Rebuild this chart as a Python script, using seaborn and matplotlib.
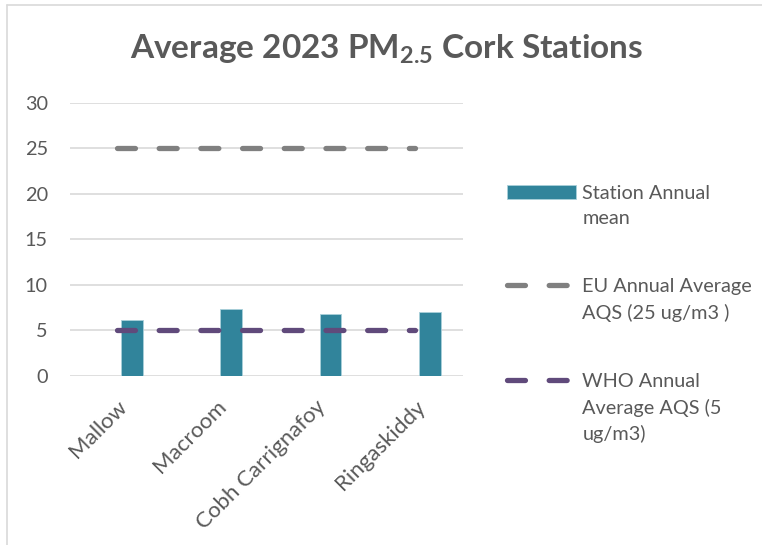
import matplotlib
matplotlib.use("Agg")
import matplotlib.pyplot as plt
from matplotlib.lines import Line2D
import seaborn as sns

stations = ["Mallow", "Macroom", "Cobh Carrignafoy", "Ringaskiddy"]
annual_mean = [6.1, 7.35, 6.8, 7.05]
eu_limit = [25, 25, 25, 25]
who_limit = [5, 5, 5, 5]

bar_label = "Station Annual\nmean"
eu_label = "EU Annual Average\nAQS (25 ug/m3 )"
who_label = "WHO Annual\nAverage AQS (5\nug/m3)"
y_ticks = [0, 5, 10, 15, 20, 25, 30]

TEXT = "#595959"
BAR = "#31849B"
EU = "#808080"
WHO = "#604A7B"
GRID = "#D9D9D9"

sns.set_theme(style="white")
plt.rcParams["font.family"] = ["Lato", "DejaVu Sans"]
plt.rcParams["mathtext.fontset"] = "custom"
plt.rcParams["mathtext.rm"] = "Lato:bold"
plt.rcParams["mathtext.it"] = "Lato:bold"
plt.rcParams["mathtext.bf"] = "Lato:bold"

fig = plt.figure(figsize=(7.62, 5.45), dpi=100)
ax = fig.add_axes([0.0919, 0.3106, 0.5157, 0.5004])

sns.barplot(x=stations, y=annual_mean, color=BAR, width=0.22, saturation=1,
            edgecolor="#A9D0DA", linewidth=0.6, label=bar_label, ax=ax)
# bars sit a little right of the category centre, as in the original
for p in ax.patches:
    p.set_x(p.get_x() + 0.15)

dash = (0, (3.4, 4.5))
sns.lineplot(x=stations, y=eu_limit, color=EU, lw=3.8, linestyle=dash,
             dash_capstyle="round", label=eu_label, ax=ax)
sns.lineplot(x=stations, y=who_limit, color=WHO, lw=3.8, linestyle=dash,
             dash_capstyle="round", label=who_label, ax=ax)

ax.set_ylim(0, 30)
ax.set_xlim(-0.475, 3.485)
ax.set_yticks(y_ticks)
ax.yaxis.grid(True, color=GRID, lw=1.2)
ax.set_axisbelow(True)
for s in ax.spines.values():
    s.set_visible(False)
ax.tick_params(axis="y", length=0, pad=16, labelsize=14.3, labelcolor=TEXT)
ax.tick_params(axis="x", length=0, pad=15, labelsize=16, labelcolor=TEXT)
for lab in ax.get_xticklabels():
    lab.set_rotation(45)
    lab.set_ha("right")
    lab.set_va("top")
    lab.set_rotation_mode("anchor")

handles, labels = ax.get_legend_handles_labels()
order = [labels.index(bar_label), labels.index(eu_label), labels.index(who_label)]
leg = ax.legend([handles[i] for i in order], [labels[i] for i in order],
                loc="upper left", bbox_to_anchor=(507 / 762, 1 - 185 / 545),
                bbox_transform=fig.transFigure, frameon=False,
                fontsize=14.3, labelcolor=TEXT, handlelength=3.45,
                handletextpad=0.35, labelspacing=2.6, borderpad=0,
                borderaxespad=0)
for t in leg.get_texts():
    t.set_linespacing(1.55)
# key sits level with the first line of each label
for col in leg._legend_handle_box.get_children():
    for item in col.get_children():
        item.align = "top"

fig.text(0.508, 1 - 59.3 / 545, r"Average 2023 PM$_{2.5}$ Cork Stations",
         ha="center", va="baseline", fontsize=24, fontweight="bold", color=TEXT)

# outer chart border (left and top edges visible in the screenshot)
fig.add_artist(Line2D([6.5 / 762, 6.5 / 762], [0, 1 - 5 / 545], color=GRID, lw=1.2))
fig.add_artist(Line2D([6.5 / 762, 1], [1 - 5 / 545, 1 - 5 / 545], color=GRID, lw=1.2))

fig.savefig("out.png", dpi=100)
